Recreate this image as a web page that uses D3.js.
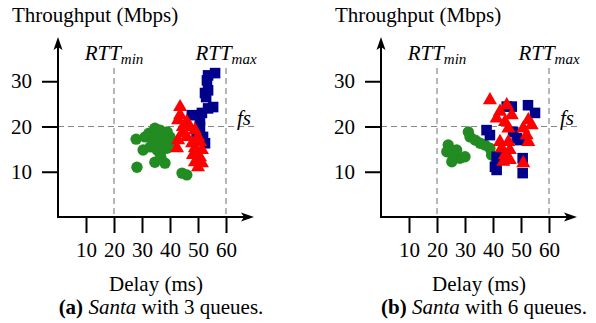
<!DOCTYPE html>
<html>
<head>
<meta charset="utf-8">
<script src="https://cdn.jsdelivr.net/npm/d3@7"></script>
<style>
  body { margin: 0; background: #fff; }
</style>
</head>
<body>
<svg id="chart" width="596" height="323"></svg>
<script>
// ---- data (delay ms, throughput Mbps) ----
const xTicks = [10, 20, 30, 40, 50, 60];
const yTicks = [10, 20, 30];
const rttMin = 20;
const rttMax = 60;
const fairShare = 20;

const blueA = [[56.1,31.8],[53.6,31.3],[53.2,30.2],[53.6,28],[52.5,27.4],[52.9,26.5],[55.4,24.3],[53.6,24],[51.4,23],[47.8,22.5],[50.7,21.4],[50.7,19.9],[51.8,17.7],[52.5,16.3],[49.5,18.5]];
const redA = [[43.6,24.3],[43.6,22.5],[42.9,21.4],[46,21],[44.6,19.9],[47.1,19.9],[48.9,19.2],[44.3,18.5],[46,17.7],[50,17.7],[42.9,17],[47.9,16.3],[50.7,16.6],[42.5,15.2],[48.9,15.2],[51.4,14.8],[48.2,13.7],[50.7,13.2],[48.9,12.1],[51.4,11.9],[50,11]];
const greenA = [[27.9,17.2],[31.1,17.7],[30.4,14.8],[28.2,11],[34.6,19.6],[36.4,19.2],[33.9,17],[37.5,17],[40,17.7],[35.4,14.8],[38.9,15.2],[34.6,12.1],[38.2,11.9],[44.3,9.7],[46,9.3],[36,16],[32.5,18.5],[39,18.8],[35,18],[37.5,18.5],[36.5,14],[33,15.5],[38,16],[40.5,16.5],[34.2,16.2],[36.8,13]];

const blueB = [[44.9,24.4],[52.5,24.7],[55,23],[37.7,19.2],[38.9,18.1],[47.2,18.8],[49.6,17],[41.3,13.3],[41.3,10.4],[40.7,11.1],[50.6,13],[50.6,9.7],[46.7,24.4],[48.5,17.4]];
const redB = [[38.9,25.8],[44.9,24.7],[42.5,23.3],[46.7,22.5],[41.3,21.8],[44.3,21],[45.5,19.6],[52.6,21.4],[50.8,19.6],[53.8,20.3],[52,18.1],[52.6,16.6],[42.5,16.6],[45.5,16.6],[43.1,15.2],[46,14.8],[44.3,13.7],[46,12.6],[43.7,12.2],[50.8,11.9]];
const greenB = [[24,15.9],[23.5,14.4],[25.8,13.3],[28.2,13],[30,13.3],[27,14.8],[24.8,14.8],[31.2,18.8],[31.8,17.7],[33.6,17],[35.4,16.3],[37.1,15.9],[38.9,15.2],[39.5,13.7],[25.3,12.2]];

const panels = [
  { x0: 58, blue: blueA, red: redA, green: greenA, label: "a", queues: 3 },
  { x0: 381, blue: blueB, red: redB, green: greenB, label: "b", queues: 6 }
];

const SERIF = "Liberation Serif";
const FONT = 21;
const svg = d3.select("#chart").style("font-family", SERIF);
const y = d3.scaleLinear().domain([0, 40]).range([217, 36]);

panels.forEach(p => {
  const x = d3.scaleLinear().domain([0, 70]).range([p.x0, p.x0 + 196]);
  const g = svg.append("g");
  const x0 = x(0), y0 = y(0), xe = x(70);

  // reference lines
  [rttMin, rttMax].forEach(v => {
    g.append("line").attr("x1", x(v)).attr("x2", x(v)).attr("y1", 68).attr("y2", y0)
      .attr("stroke", "#888").attr("stroke-width", 1.2).attr("stroke-dasharray", "6,4");
  });
  g.append("line").attr("x1", x0).attr("x2", xe).attr("y1", y(fairShare)).attr("y2", y(fairShare))
    .attr("stroke", "#888").attr("stroke-width", 1.2).attr("stroke-dasharray", "6,4");

  // markers
  g.selectAll(".g").data(p.green).enter().append("circle")
    .attr("cx", d => x(d[0])).attr("cy", d => y(d[1])).attr("r", 5.7).attr("fill", "#228b22");
  g.selectAll(".b").data(p.blue).enter().append("path")
    .attr("d", d3.symbol(d3.symbolSquare, 112))
    .attr("transform", d => `translate(${x(d[0])},${y(d[1])})`).attr("fill", "#00008b");
  g.selectAll(".r").data(p.red).enter().append("path")
    .attr("d", d3.symbol(d3.symbolTriangle, 86))
    .attr("transform", d => `translate(${x(d[0])},${y(d[1])})`).attr("fill", "#ff0000");

  // axes
  const xAxis = g.append("g").attr("transform", `translate(0,${y0})`)
    .call(d3.axisBottom(x).tickValues(xTicks).tickSize(16).tickPadding(9).tickFormat(d3.format("d")));
  const yAxis = g.append("g").attr("transform", `translate(${x0},0)`)
    .call(d3.axisLeft(y).tickValues(yTicks).tickSize(16).tickPadding(10));
  [xAxis, yAxis].forEach(a => {
    a.attr("font-family", null).attr("font-size", null);
    a.select(".domain").remove();
    a.selectAll("line").attr("stroke", "#000").attr("stroke-width", 2);
    a.selectAll("text").style("font-size", FONT + "px").style("font-family", SERIF).attr("fill", "#000");
  });

  // axis lines with arrowheads
  g.append("line").attr("x1", x0).attr("x2", x0).attr("y1", y0 + 1).attr("y2", 44).attr("stroke", "#000").attr("stroke-width", 2);
  g.append("line").attr("x1", x0 - 1).attr("x2", xe - 6).attr("y1", y0).attr("y2", y0).attr("stroke", "#000").attr("stroke-width", 2);
  g.append("path").attr("d", `M${x0},37 L${x0 + 4.5},50 L${x0},47 L${x0 - 4.5},50 Z`).attr("fill", "#000");
  g.append("path").attr("d", `M${xe},${y0} L${xe - 13},${y0 - 4.5} L${xe - 10},${y0} L${xe - 13},${y0 + 4.5} Z`).attr("fill", "#000");

  // labels
  const txt = (sel) => sel.style("font-family", SERIF).style("font-size", FONT + "px");
  txt(g.append("text")).attr("x", x0 - 46).attr("y", 22).text("Throughput (Mbps)");
  txt(g.append("text")).attr("x", (x0 + xe) / 2).attr("y", 291).attr("text-anchor", "middle").text("Delay (ms)");

  const cap = txt(g.append("text")).attr("x", (x0 + xe) / 2 + 5).attr("y", 314).attr("text-anchor", "middle");
  cap.append("tspan").attr("font-weight", "bold").text(`(${p.label})`);
  cap.append("tspan").text(" ");
  cap.append("tspan").attr("font-style", "italic").text("Santa");
  cap.append("tspan").text(` with ${p.queues} queues.`);

  [[rttMin, "min"], [rttMax, "max"]].forEach(([v, sub]) => {
    const t = txt(g.append("text")).attr("x", x(v)).attr("y", 60).attr("text-anchor", "middle").attr("font-style", "italic");
    t.append("tspan").text("RTT");
    t.append("tspan").style("font-size", "15px").attr("dy", 4).text(sub);
  });

  txt(g.append("text")).attr("x", xe - 17).attr("y", 125).attr("font-style", "italic").text("fs");
});
</script>
</body>
</html>
